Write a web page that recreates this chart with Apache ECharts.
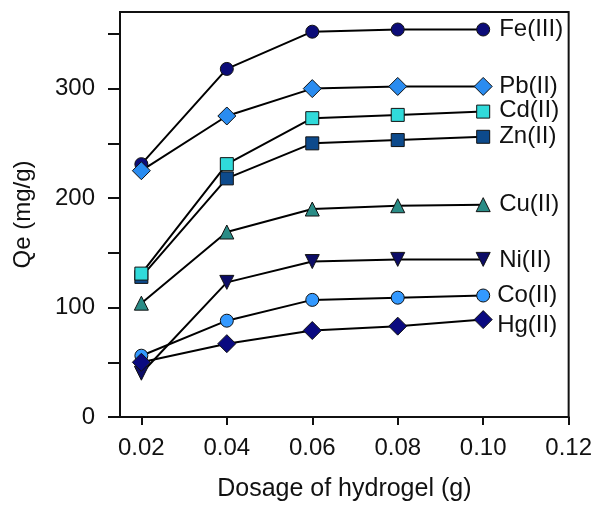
<!DOCTYPE html>
<html>
<head>
<meta charset="utf-8">
<script src="https://cdn.jsdelivr.net/npm/echarts@6/dist/echarts.min.js"></script>
<style>
html,body{margin:0;padding:0;background:#fff;}
#c{width:595px;height:507px;}
</style>
</head>
<body>
<div id="c"></div>
<script>
const dosages = [0.02, 0.04, 0.06, 0.08, 0.10];
const xTicks = [0.02, 0.04, 0.06, 0.08, 0.10, 0.12];
const yTicks = [0, 50, 100, 150, 200, 250, 300, 350];
const yLabels = [0, 100, 200, 300];

const fe = [231, 318, 352, 354, 354];
const pb = [225, 275, 300, 302, 302];
const zn = [128, 218, 250, 253, 256];
const cd = [131, 231, 273, 276, 279];
const cu = [104, 169, 190, 193, 194];
const ni = [40, 123, 142, 144, 144];
const co = [56, 88, 107, 109, 111];
const hg = [50, 67, 79, 83, 89];

const seriesDefs = [
  {name: 'Fe(III)', data: fe, symbol: 'circle', size: 13, color: '#0c0c78', off: [0, 0]},
  {name: 'Pb(II)', data: pb, symbol: 'diamond', size: 18, color: '#2a8cf0', off: [0, 0]},
  {name: 'Zn(II)', data: zn, symbol: 'rect', size: 13, color: '#0d4a8c', off: [0, 0]},
  {name: 'Cd(II)', data: cd, symbol: 'rect', size: 13, color: '#30dada', off: [0, -1]},
  {name: 'Cu(II)', data: cu, symbol: 'triangle', size: 14, color: '#2a8c86', off: [0, 0]},
  {name: 'Ni(II)', data: ni, symbol: 'triangle', size: 14, color: '#0c0c66', rot: 180, off: [0, 1]},
  {name: 'Co(II)', data: co, symbol: 'circle', size: 13, color: '#3399ff', off: [-2, 0]},
  {name: 'Hg(II)', data: hg, symbol: 'diamond', size: 18, color: '#0a0a80', off: [-2, 6]}
];

const FONT = '"Liberation Sans", Arial, sans-serif';

const series = seriesDefs.map(s => ({
  name: s.name,
  type: 'line',
  data: dosages.map((x, i) => [x, s.data[i]]),
  symbol: s.symbol,
  symbolSize: s.size,
  symbolRotate: s.rot || 0,
  showAllSymbol: true,
  lineStyle: {color: '#000', width: 2},
  itemStyle: {color: s.color, borderColor: '#111', borderWidth: 1},
  emphasis: {disabled: true},
  animation: false,
  endLabel: {
    show: true,
    formatter: '{a}',
    distance: 16,
    offset: s.off,
    color: '#111',
    fontSize: 24,
    fontFamily: FONT
  }
}));

const chart = echarts.init(document.getElementById('c'), null, {renderer: 'canvas'});
chart.setOption({
  backgroundColor: '#fff',
  animation: false,
  grid: {left: 120, right: 19, top: 12, bottom: 90, show: true, borderColor: '#111', borderWidth: 2, backgroundColor: 'transparent'},
  xAxis: {
    type: 'value',
    min: 0.015,
    max: 0.12,
    name: 'Dosage of hydrogel (g)',
    nameLocation: 'middle',
    nameGap: 60,
    nameTextStyle: {fontSize: 25, color: '#111', fontFamily: FONT},
    axisLine: {show: true, onZero: false, lineStyle: {color: '#111', width: 2}},
    axisTick: {show: true, length: 8, lineStyle: {color: '#111', width: 2}, customValues: xTicks},
    axisLabel: {fontSize: 24, color: '#111', fontFamily: FONT, margin: 19, customValues: xTicks,
      formatter: v => v.toFixed(2)},
    splitLine: {show: false}
  },
  yAxis: {
    type: 'value',
    min: 0,
    max: 370,
    name: 'Qe (mg/g)',
    nameLocation: 'middle',
    nameGap: 85,
    nameRotate: 90,
    nameTextStyle: {fontSize: 24, color: '#111', fontFamily: FONT},
    axisLine: {show: true, lineStyle: {color: '#111', width: 2}},
    axisTick: {show: true, length: 12, lineStyle: {color: '#111', width: 2}, customValues: yTicks},
    axisLabel: {fontSize: 24, color: '#111', fontFamily: FONT, margin: 25, customValues: yLabels},
    splitLine: {show: false}
  },
  series: series
});
</script>
</body>
</html>
